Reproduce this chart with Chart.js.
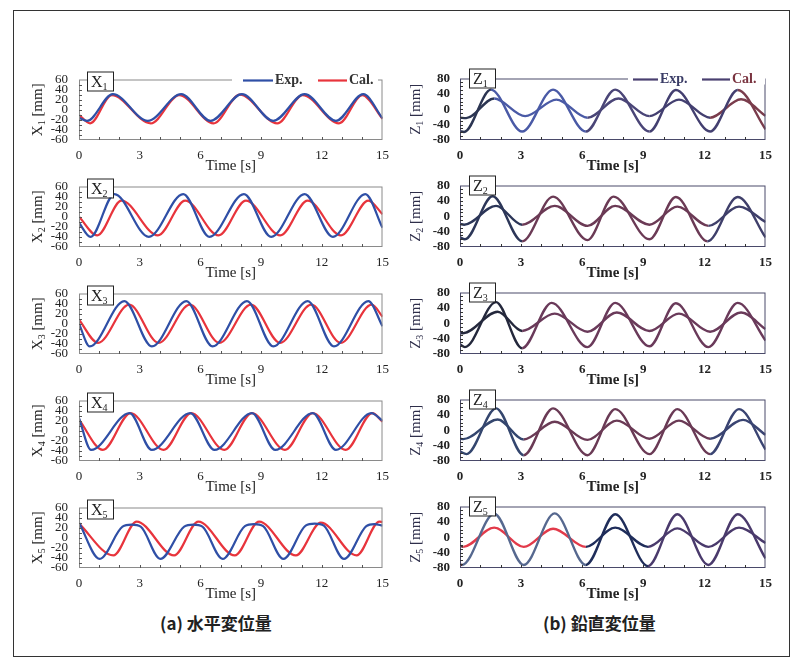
<!DOCTYPE html>
<html>
<head>
<meta charset="utf-8">
<script src="https://cdn.jsdelivr.net/npm/chart.js@4.4.1/dist/chart.umd.min.js"></script>
<style>
html, body { margin: 0; padding: 0; background: #fff; }
#page { position: relative; width: 800px; height: 664px; overflow: hidden; background: #fff; }
#frame { position: absolute; left: 13px; top: 10px; width: 777px; height: 647px; border: 1.5px solid #333; box-sizing: border-box; }
#page canvas { position: absolute; }
.cap { position: absolute; top: 610px; font-family: "Noto Sans CJK JP", sans-serif; font-size: 17px; font-weight: bold; color: #222; white-space: nowrap; }
</style>
</head>
<body>
<div id="page">
  <div id="frame"></div>
  <div class="cap" style="left:160px">(a) 水平変位量</div>
  <div class="cap" style="left:543px">(b) 鉛直変位量</div>
</div>
<script>
// [time (s), displacement (mm)] read at peaks / troughs off the picture
const x1Exp = [[0,-16],[0.4,-22],[1.67,31],[3.4,-22],[5.05,31],[6.5,-22],[8.05,31],[9.6,-22],[11.15,31],[12.7,-22],[14.05,31],[15,-17]];
const x1Cal = [[0,-10],[0.55,-27],[1.62,29],[3.55,-27],[4.95,29],[6.65,-27],[7.95,30],[9.8,-27],[11.05,29],[12.85,-27],[14.0,29],[15,-18]];
const x2Exp = [[0,-12],[0.57,-40],[1.75,45],[3.45,-40],[5.15,45],[6.45,-40],[8.15,45],[9.5,-40],[11.15,45],[12.55,-40],[14.15,45],[15,-22]];
const x2Cal = [[0,0],[0.9,-37],[2.1,32],[3.9,-37],[5.25,32],[6.9,-37],[8.25,32],[9.95,-37],[11.3,32],[12.95,-37],[14.3,32],[15,5]];
const x3Exp = [[0,0],[0.53,-45],[2.24,45],[3.6,-45],[5.3,45],[6.6,-45],[8.3,45],[9.6,-45],[11.3,45],[12.6,-45],[14.3,45],[15,-5]];
const x3Cal = [[0,8],[0.94,-38],[2.48,38],[3.94,-38],[5.48,38],[6.94,-38],[8.5,38],[9.94,-38],[11.48,38],[12.94,-38],[14.47,38],[15,14]];
const x4Exp = [[0,25],[0.6,-38],[2.5,35],[3.6,-38],[5.5,35],[6.7,-38],[8.55,35],[9.7,-38],[11.55,35],[12.7,-38],[14.45,35],[15,20]];
const x4Cal = [[0,22],[1.18,-38],[2.55,35],[4.18,-38],[5.55,35],[7.18,-38],[8.55,35],[10.18,-38],[11.55,35],[13.18,-38],[14.5,35],[15,18]];
const x5Exp = [[0,30],[1.02,-42],[2.15,22],[2.6,26],[3.05,22],[4.02,-42],[5.2,22],[5.65,26],[6.1,22],[7.1,-42],[8.2,23],[8.65,27],[9.1,23],[10.1,-42],[11.2,24],[11.65,28],[12.1,24],[13.1,-42],[14.2,23],[14.6,27],[15,24]];
const x5Cal = [[0,28],[1.7,-35],[2.85,32],[4.7,-35],[5.9,32],[7.7,-35],[8.9,32],[10.72,-35],[11.95,30],[13.72,-35],[14.85,32],[15,31]];

const z1Exp = [[0,-57],[0.2,-59],[1.52,51],[3.05,-58],[4.57,51],[6.18,-58],[7.62,51],[9.3,-58],[10.6,50],[12.28,-58],[13.64,50],[15,-52]];
const z1Cal = [[0,-22],[0.3,-23],[1.68,28],[3.2,-18],[4.73,25],[6.26,-22],[7.78,28],[9.3,-18],[10.75,25],[12.28,-22],[13.8,26],[15,-17]];
const z2Exp = [[0,-55],[0.24,-60],[1.6,52],[3.05,-65],[4.57,51],[6.26,-62],[7.54,51],[9.3,-60],[10.6,50],[12.15,-65],[13.64,50],[15,-55]];
const z2Cal = [[0,-20],[0.2,-22],[1.77,27],[3.05,-22],[4.65,27],[6.26,-25],[7.62,27],[9.3,-22],[10.67,25],[12.2,-25],[13.7,25],[15,-15]];
const z3Exp = [[0,-55],[0.24,-62],[1.77,55],[3.05,-65],[4.5,53],[6.26,-62],[7.62,53],[9.3,-60],[10.6,52],[12.2,-62],[13.64,53],[15,-45]];
const z3Cal = [[0,-25],[0.15,-26],[1.85,30],[3.05,-20],[4.65,25],[6.26,-22],[7.7,28],[9.3,-20],[10.75,25],[12.28,-22],[13.8,28],[15,-15]];
const z4Exp = [[0,-55],[0.32,-62],[1.77,57],[3.13,-65],[4.57,57],[6.26,-65],[7.62,55],[9.3,-62],[10.67,55],[12.28,-62],[13.7,55],[15,-50]];
const z4Cal = [[0,-22],[0.16,-23],[1.85,28],[3.13,-24],[4.65,22],[6.26,-25],[7.7,25],[9.3,-22],[10.75,25],[12.28,-22],[13.9,27],[15,-12]];
const z5Exp = [[0,-70],[0.1,-72],[1.68,61],[3.13,-72],[4.65,62],[6.18,-72],[7.62,60],[9.23,-75],[10.67,60],[12.2,-72],[13.64,60],[15,-55]];
const z5Cal = [[0,-22],[0.16,-25],[1.68,25],[3.13,-25],[4.57,22],[6.18,-25],[7.62,25],[9.23,-25],[10.67,23],[12.2,-25],[13.7,25],[15,-15]];

const seriesNames = ['Exp.', 'Cal.'];
const panelSubs = ['1', '2', '3', '4', '5'];
const xRange = [0, 15];
const xStep = 3;
const leftRange = [-60, 60], leftStep = 20;
const rightRange = [-80, 80], rightStep = 40;

const leftData = [[x1Exp, x1Cal], [x2Exp, x2Cal], [x3Exp, x3Cal], [x4Exp, x4Cal], [x5Exp, x5Cal]];
const rightData = [[z1Exp, z1Cal], [z2Exp, z2Cal], [z3Exp, z3Cal], [z4Exp, z4Cal], [z5Exp, z5Cal]];

// segment colours of the right column (scan colour shifts in the figure)
const rightSegs = [
  [[1.3, '#2c3552'], [5.5, '#4a5aa6'], [9.6, '#4a4577'], [13.0, '#433f70'], [15, '#7a3c4c']],
  [[3.1, '#2c3658'], [12.1, '#6b3a55'], [15, '#3f3f6a']],
  [[2.7, '#24283c'], [15, '#6a3a5a']],
  [[3.1, '#34466e'], [12.1, '#6a3a55'], [15, '#3a4472']],
  [[0.7, '#5a2a30'], [6.2, null], [9.5, '#1f2d5a'], [15, '#4a3a6c']]
];

const plotTops = [74, 181, 288, 395, 502];
const PLOT_H = 66, PAD_T = 12, AXIS_H = 34;
const SERIF = '"Liberation Serif", "Times New Roman", serif';

const decor = {
  id: 'decor',
  afterDraw(chart, args, o) {
    const ctx = chart.ctx, a = chart.chartArea;
    const xs = chart.scales.x, ys = chart.scales.y;
    ctx.save();
    ctx.lineWidth = 1;
    ctx.strokeStyle = o.frame;
    ctx.strokeRect(a.left + 0.5, a.top + 0.5, a.right - a.left - 1, a.bottom - a.top - 1);

    // small inward ticks
    ctx.beginPath();
    for (let t = 1; t < 15; t++) {
      const px = Math.round(xs.getPixelForValue(t)) + 0.5;
      ctx.moveTo(px, a.bottom); ctx.lineTo(px, a.bottom - 3);
    }
    for (let v = ys.min + 10; v < ys.max; v += 10) {
      const py = Math.round(ys.getPixelForValue(v)) + 0.5;
      ctx.moveTo(a.left, py); ctx.lineTo(a.left + 3, py);
    }
    ctx.strokeStyle = o.tick;
    ctx.stroke();

    // legend on the first row
    if (o.legend) {
      const L = o.legend;
      ctx.fillStyle = '#fff';
      ctx.fillRect(a.left + L.mask[0], a.top - 8, L.mask[1] - L.mask[0], 14);
      ctx.lineWidth = 2.2;
      ctx.font = 'bold 14px ' + SERIF;
      ctx.textBaseline = 'middle';
      ctx.textAlign = 'left';
      L.items.forEach(it => {
        ctx.strokeStyle = it.color;
        ctx.beginPath();
        ctx.moveTo(a.left + it.x0, a.top + 1);
        ctx.lineTo(a.left + it.x1, a.top + 1);
        ctx.stroke();
        ctx.fillStyle = it.text;
        ctx.fillText(it.label, a.left + it.x1 + 2, a.top + 1);
      });
    }

    // panel label box
    const bx = a.left + o.box[0], by = a.top + o.box[1];
    ctx.fillStyle = '#fff';
    ctx.fillRect(bx, by, 26, 19);
    ctx.lineWidth = 1;
    ctx.strokeStyle = '#222';
    ctx.strokeRect(bx + 0.5, by + 0.5, 26, 19);
    ctx.fillStyle = '#222';
    ctx.textAlign = 'left';
    ctx.textBaseline = 'alphabetic';
    ctx.font = '16px ' + SERIF;
    ctx.fillText(o.name, bx + 4, by + 15);
    const nw = ctx.measureText(o.name).width;
    ctx.font = '10px ' + SERIF;
    ctx.fillText(o.sub, bx + 4 + nw, by + 18);

    // rotated y title with subscript
    ctx.save();
    ctx.translate(o.titleX, (a.top + a.bottom) / 2);
    ctx.rotate(-Math.PI / 2);
    ctx.font = '15px ' + SERIF;
    const w1 = ctx.measureText(o.name).width;
    const w3 = ctx.measureText(' [mm]').width;
    ctx.font = '10px ' + SERIF;
    const w2 = ctx.measureText(o.sub).width;
    let tx = -(w1 + w2 + w3) / 2;
    ctx.fillStyle = o.tcolor;
    ctx.textBaseline = 'alphabetic';
    ctx.font = '15px ' + SERIF;
    ctx.fillText(o.name, tx, 5);
    ctx.font = '10px ' + SERIF;
    ctx.fillText(o.sub, tx + w1, 8);
    ctx.font = '15px ' + SERIF;
    ctx.fillText(' [mm]', tx + w1 + w2, 5);
    ctx.restore();

    // x title
    ctx.fillStyle = '#222';
    ctx.font = o.bold + '15px ' + SERIF;
    ctx.textAlign = 'center';
    ctx.textBaseline = 'middle';
    ctx.fillText('Time [s]', (a.left + a.right) / 2, a.bottom + 26);
    ctx.restore();
  }
};

function segColor(segs, kind) {
  return c => {
    const mid = (c.p0.parsed.x + c.p1.parsed.x) / 2;
    for (const s of segs) {
      if (mid <= s[0]) return s[1] || (kind === 0 ? '#56688f' : '#e23a4a');
    }
    return segs[segs.length - 1][1];
  };
}

function makePanel(col, row) {
  const left = col === 0;
  const canvas = document.createElement('canvas');
  const cLeft = left ? 24 : 402;
  const yw = left ? 55 : 58;
  const cw = left ? 374 : 379;
  const ch = PAD_T + PLOT_H + AXIS_H;
  canvas.width = cw;
  canvas.height = ch;
  canvas.style.left = cLeft + 'px';
  canvas.style.top = (plotTops[row] - PAD_T) + 'px';
  document.getElementById('page').appendChild(canvas);

  const pair = left ? leftData[row] : rightData[row];
  const range = left ? leftRange : rightRange;
  const datasets = pair.map((pts, k) => {
    const ds = {
      label: seriesNames[k],
      data: pts.map(p => ({ x: p[0], y: p[1] })),
      borderColor: left ? (k === 0 ? '#2f4fa6' : '#e8343c') : '#4a4070',
      borderWidth: left ? 2.2 : 2.4,
      pointRadius: 0,
      fill: false,
      cubicInterpolationMode: 'monotone'
    };
    if (!left) ds.segment = { borderColor: segColor(rightSegs[row], k) };
    return ds;
  });

  const tickFont = { family: SERIF, size: 13, weight: left ? 'normal' : 'bold', lineHeight: 1 };
  const legend = row === 0 ? (left ? {
    mask: [153, 299],
    items: [
      { x0: 164, x1: 194, color: '#2f4fa6', text: '#333', label: 'Exp.' },
      { x0: 239, x1: 268, color: '#e8343c', text: '#333', label: 'Cal.' }
    ]
  } : {
    mask: [168, 305],
    items: [
      { x0: 173, x1: 198, color: '#4a4070', text: '#3a3c66', label: 'Exp.' },
      { x0: 242, x1: 270, color: '#4a4070', text: '#7a3440', label: 'Cal.' }
    ]
  }) : null;

  new Chart(canvas, {
    type: 'line',
    data: { datasets },
    plugins: [decor],
    options: {
      responsive: false,
      animation: false,
      events: [],
      layout: { padding: { top: PAD_T, right: 9, left: 0, bottom: 0 } },
      scales: {
        x: {
          type: 'linear', min: xRange[0], max: xRange[1],
          afterFit: s => { s.height = AXIS_H; },
          grid: { display: false, drawTicks: false },
          border: { display: false },
          ticks: { stepSize: xStep, padding: 9, color: '#222', font: tickFont, maxRotation: 0, autoSkip: false }
        },
        y: {
          min: range[0], max: range[1],
          afterFit: s => { s.width = yw; },
          grid: { display: false, drawTicks: false },
          border: { display: false },
          ticks: { stepSize: left ? leftStep : rightStep, padding: left ? 11 : 10, color: '#222', font: tickFont, autoSkip: false }
        }
      },
      plugins: {
        legend: { display: false },
        tooltip: { enabled: false },
        decor: {
          frame: left ? '#8a8a8a' : '#4a4a6a',
          tick: left ? '#555' : '#333',
          name: left ? 'X' : 'Z',
          sub: panelSubs[row],
          titleX: 13,
          tcolor: left ? '#222' : '#2e2e4a',
          bold: left ? '' : 'bold ',
          box: left ? [8, -8] : [9, -10],
          legend
        }
      }
    }
  });
}

for (let r = 0; r < 5; r++) {
  makePanel(0, r);
  makePanel(1, r);
}
</script>
</body>
</html>
